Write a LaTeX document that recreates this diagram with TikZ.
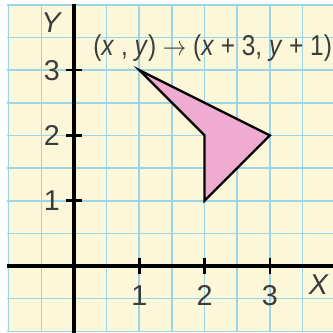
\documentclass[tikz,border=0pt]{standalone}
\usepackage{fontspec}
\setmainfont{Liberation Sans}
\definecolor{paper}{RGB}{252,247,216}
\definecolor{gridblue}{RGB}{155,212,230}
\definecolor{shapepink}{RGB}{240,172,208}
\definecolor{inkgray}{RGB}{60,60,60}
\tikzset{
  axisline/.style={line width=1.7pt,black},
  tickline/.style={line width=1.1pt,black},
  gridline/.style={line width=0.7pt,gridblue},
  lbl/.style={text=inkgray,font=\fontsize{12.5}{14}\selectfont,inner sep=0pt},
  polyshape/.style={fill=shapepink,draw=black,line width=1pt,line join=miter}
}
\begin{document}
\begin{tikzpicture}
\useasboundingbox (-1.133,-1.026) rectangle (3.966,4.074);
\clip (-1.133,-1.026) rectangle (3.966,4.074);
\fill[paper] (-1.03,-1.0) rectangle (4.1,4.01);
\foreach \g in {-1,-0.5,...,4} {
  \draw[gridline] (\g,-1.0) -- (\g,4.01);
  \draw[gridline] (-1.03,\g) -- (4.1,\g);
}
% polygon
\coordinate (A) at (1,3);
\coordinate (B) at (3,2);
\coordinate (C) at (2,1);
\coordinate (D) at (2,2);
\draw[polyshape] (A) -- (B) -- (C) -- (D) -- cycle;
% axes
\coordinate (xl) at (-1.03,0);
\coordinate (xr) at (4.1,0);
\coordinate (yb) at (0,-1.1);
\coordinate (yt) at (0,4.01);
\draw[axisline] (xl) -- (xr);
\draw[axisline] (yb) -- (yt);
\foreach \i in {1,2,3} {
  \draw[tickline] (\i,-0.13) -- (\i,0.13);
  \draw[tickline] (-0.12,\i) -- (0.13,\i);
  \node[lbl] (xt\i) at (\i,-0.45) {\i};
  \node[lbl] (yt\i) at (-0.34,\i) {\i};
}
\node[lbl] (ylab) at (-0.34,3.72) {\textit{Y}};
\node[lbl] (xlab) at (3.75,-0.29) {\textit{X}};
\node[lbl,anchor=west,xscale=0.85] (rule) at (0.29,3.33)
  {(\textit{x} , \textit{y}) $\rightarrow$ (\textit{x} + 3, \textit{y} + 1)};
\end{tikzpicture}
\end{document}
